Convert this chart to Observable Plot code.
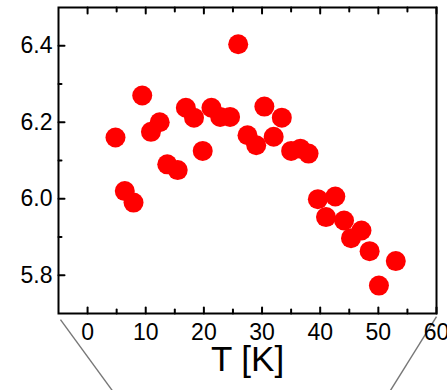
<!DOCTYPE html>
<html><head><meta charset="utf-8">
<script src="https://cdn.jsdelivr.net/npm/d3@7"></script>
<script src="https://cdn.jsdelivr.net/npm/@observablehq/plot@0.6"></script>
<style>body{margin:0;background:#fff;} #chart svg{font-family:"Liberation Sans",Arial,sans-serif;}</style>
</head><body><div id="chart"></div>
<script>
const temperature = [4.8, 6.4, 7.9, 9.4, 10.9, 12.4, 13.7, 15.5, 16.9, 18.3, 19.8, 21.3, 22.8, 24.5, 25.9, 27.5, 29.0, 30.4, 32.0, 33.4, 35.0, 36.6, 38.0, 39.6, 42.6, 41.0, 44.1, 45.3, 47.1, 48.5, 50.1, 53.0];
const value = [6.16, 6.02, 5.99, 6.27, 6.175, 6.20, 6.09, 6.075, 6.238, 6.212, 6.125, 6.238, 6.214, 6.214, 6.404, 6.166, 6.14, 6.241, 6.162, 6.212, 6.125, 6.131, 6.118, 5.999, 6.006, 5.952, 5.943, 5.897, 5.917, 5.863, 5.773, 5.837];
const xTicks = [0, 10, 20, 30, 40, 50, 60];
const xMinorTicks = [5, 15, 25, 35, 45, 55];
const yTicks = [5.8, 6.0, 6.2, 6.4];
const yMinorTicks = [5.9, 6.1, 6.3];
const xDomain = [-5, 60];
const yDomain = [5.7, 6.5];
const xLabel = "T [K]";
// zoom-indicator connector lines (data coordinates, extending below the frame)
const insetLinks = [
  {x1: -4.66, y1: 5.684, x2: 4.23, y2: 5.499},
  {x1: 60.0, y1: 5.692, x2: 52.09, y2: 5.499}
];

const points = temperature.map((t, i) => ({t, v: value[i]}));
const tickShape = {draw(context, l) { context.moveTo(0, 0); context.lineTo(0, -l); }};

const chart = Plot.plot({
  width: 447,
  height: 390,
  marginLeft: 58,
  marginRight: 11,
  marginTop: 7,
  marginBottom: 77,
  x: {domain: xDomain},
  y: {domain: yDomain},
  marks: [
    Plot.link(insetLinks, {x1: "x1", y1: "y1", x2: "x2", y2: "y2", stroke: "#777", strokeWidth: 1.4}),
    Plot.dot(points, {x: "t", y: "v", r: 10, fill: "#ff0000", stroke: "none"}),
    // bottom ticks (inward)
    Plot.vector(xTicks, {x: d => d, y: yDomain[0], length: 6, rotate: 0, anchor: "start", shape: tickShape, stroke: "black", strokeWidth: 2}),
    Plot.vector(xMinorTicks, {x: d => d, y: yDomain[0], length: 4, rotate: 0, anchor: "start", shape: tickShape, stroke: "black", strokeWidth: 2}),
    // top ticks (inward)
    Plot.vector(xTicks, {x: d => d, y: yDomain[1], length: 6, rotate: 180, anchor: "start", shape: tickShape, stroke: "black", strokeWidth: 2}),
    Plot.vector(xMinorTicks, {x: d => d, y: yDomain[1], length: 4, rotate: 180, anchor: "start", shape: tickShape, stroke: "black", strokeWidth: 2}),
    // left ticks (inward)
    Plot.vector(yTicks, {x: xDomain[0], y: d => d, length: 6, rotate: 90, anchor: "start", shape: tickShape, stroke: "black", strokeWidth: 2}),
    Plot.vector(yMinorTicks, {x: xDomain[0], y: d => d, length: 3, rotate: 90, anchor: "start", shape: tickShape, stroke: "black", strokeWidth: 2}),
    Plot.axisX(xTicks, {tickSize: 0, tickPadding: 10, fontSize: 23, label: null, tickFormat: d => String(d)}),
    Plot.axisY(yTicks, {tickSize: 0, tickPadding: 6, fontSize: 23, label: null, tickFormat: d3.format(".1f")}),
    Plot.text([xLabel], {text: d => d, frameAnchor: "bottom", dy: 57, fontSize: 35}),
    Plot.frame({stroke: "black", strokeWidth: 2})
  ]
});
document.getElementById("chart").appendChild(chart);
</script>
</body></html>
